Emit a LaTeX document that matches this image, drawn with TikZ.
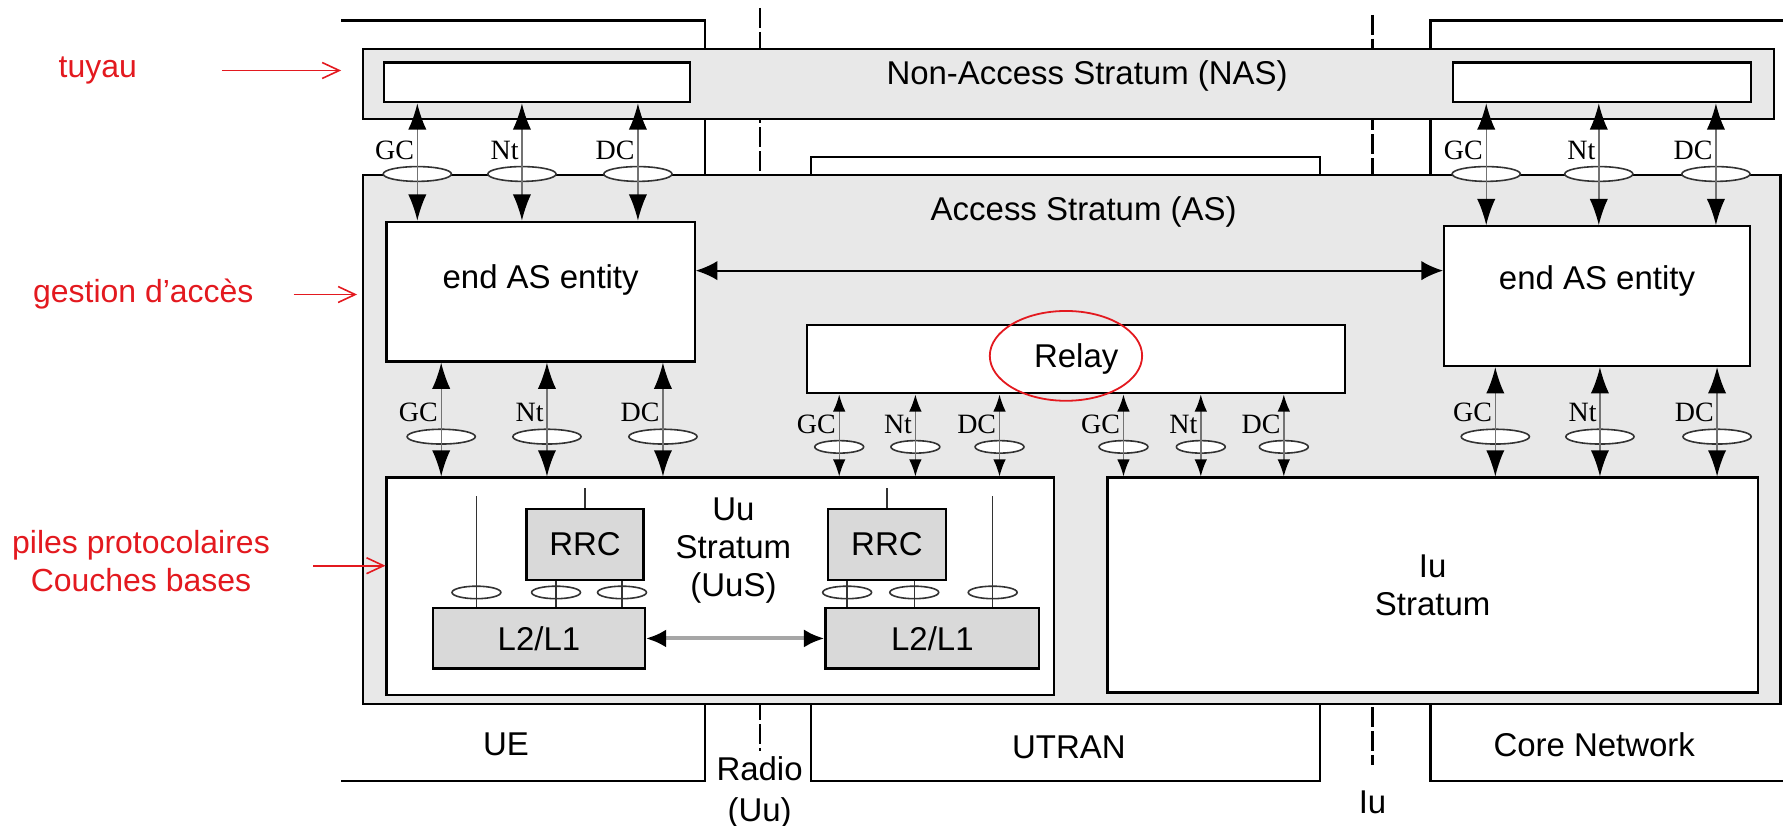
\documentclass[tikz,border=0pt]{standalone}
\usepackage{fontspec}
\setmainfont{Liberation Sans}
\newfontfamily\chanfont{Liberation Serif}
\usepackage{xcolor}
\usepackage{tikz}
\usetikzlibrary{shapes.geometric,arrows.meta,positioning,calc}
\definecolor{stratumgray}{HTML}{E8E8E8}
\definecolor{layergray}{HTML}{D9D9D9}
\definecolor{notered}{HTML}{E3191F}
\tikzset{
  stratum/.style={rectangle, draw=black, line width=1.1pt, fill=stratumgray, anchor=north west, inner sep=0pt},
  entity/.style={rectangle, draw=black, line width=1.1pt, fill=white, anchor=north west, inner sep=0pt, align=center, font=\fontsize{16.5}{19}\selectfont},
  layer/.style={rectangle, draw=black, line width=1.1pt, fill=layergray, anchor=north west, inner sep=0pt, font=\fontsize{16.5}{19}\selectfont},
  lbl/.style={font=\fontsize{16.5}{19}\selectfont, align=center, inner sep=0pt},
  sap/.style={ellipse, draw=black!80, line width=0.8pt, fill=white, minimum width=1.2cm, minimum height=0.26cm, inner sep=0pt},
  sapsmall/.style={sap, minimum width=0.86cm, minimum height=0.22cm},
  chan/.style={draw=black!55, line width=0.7pt, {Latex[length=4.6mm,width=3.2mm,color=black]}-{Latex[length=4.6mm,width=3.2mm,color=black]}},
  chansmall/.style={draw=black!55, line width=0.7pt, {Latex[length=3mm,width=2.2mm,color=black]}-{Latex[length=3mm,width=2.2mm,color=black]}},
  chanlbl/.style={font=\chanfont\fontsize{14}{16}\selectfont, inner sep=0pt, anchor=south east, xshift=-1.5pt, yshift=3pt},
  tap/.style={draw=black!80, line width=0.7pt},
  peer/.style={draw=black, line width=0.9pt, {Latex[length=3.8mm,width=3.4mm]}-{Latex[length=3.8mm,width=3.4mm]}},
  radiolink/.style={draw=black!35, line width=2pt, {Latex[length=3.6mm,width=3.2mm,color=black]}-{Latex[length=3.6mm,width=3.2mm,color=black]}},
  zoneline/.style={draw=black, line width=1.1pt},
  iface/.style={draw=black, line width=1.1pt, dash pattern=on 0.35cm off 0.07cm},
  note/.style={text=notered, font=\fontsize{16}{19}\selectfont, align=center, inner sep=0pt},
  pointer/.style={draw=notered, line width=0.8pt, -{Straight Barb[length=3mm,width=2.8mm]}},
}

\begin{document}
\begin{tikzpicture}[x=0.02cm, y=-0.02cm]
  \useasboundingbox (0,0) rectangle (1568,726);
  % UE, UTRAN, Core Network
  \draw[zoneline] (300,18) -| (620,687) -- (300,687);
  \draw[zoneline] (713,138) rectangle (1161,687);
  \draw[zoneline] (1568,18) -| (1258,687) -- (1568,687);
  \draw[iface] (668,7) -- (668,660);
  \draw[iface] (1207,13) -- (1207,673);

  \node[stratum, minimum width=24.82cm, minimum height=1.24cm] (nas) at (318,42) {};
  \node[entity, minimum width=5.38cm, minimum height=0.7cm] (nasL) at (337,54) {};
  \node[entity, minimum width=5.24cm, minimum height=0.7cm] (nasR) at (1277,54) {};
  \node[lbl] (nastxt) at (956,67) {Non-Access Stratum (NAS)};

  \node[stratum, minimum width=24.94cm, minimum height=9.3cm] (as) at (318,153) {};
  \node[lbl] (astxt) at (953,186) {Access Stratum (AS)};
  \node[entity, minimum width=5.42cm, minimum height=2.46cm] (endL) at (339,194) {};
  \node[entity, minimum width=5.38cm, minimum height=2.46cm] (endR) at (1269,198) {};
  \node[lbl] (endLtxt) at ([yshift=0.2cm]endL.center) {end AS entity};
  \node[lbl] (endRtxt) at ([yshift=0.26cm]endR.center) {end AS entity};
  \node[entity, minimum width=9.46cm, minimum height=1.2cm] (relay) at (709,285) {Relay};
  \node[entity, minimum width=11.74cm, minimum height=3.82cm] (uus) at (339,419) {};
  \node[entity, minimum width=11.44cm, minimum height=3.78cm] (ius) at (973,419) {Iu\\Stratum};

  \node[layer, minimum width=2.06cm, minimum height=1.24cm] (rrcL) at (462,447) {RRC};
  \node[layer, minimum width=2.08cm, minimum height=1.24cm] (rrcR) at (727,447) {RRC};
  \node[layer, minimum width=3.72cm, minimum height=1.06cm] (l2L) at (380,534) {L2/L1};
  \node[layer, minimum width=3.76cm, minimum height=1.06cm] (l2R) at (725,534) {L2/L1};
  \node[lbl] (uustxt) at (645,484) {Uu\\Stratum\\(UuS)};

  \node[lbl] (ue) at (445,655) {UE};
  \node[lbl] (utran) at (940,657) {UTRAN};
  \node[lbl] (cn) at (1402,655) {Core Network};
  \node[lbl, font=\fontsize{16.5}{20.5}\selectfont] (radio) at (668,697) {Radio\\(Uu)};
  \node[lbl] (iu) at (1207,706) {Iu};

  \foreach \x/\t [count=\i] in {367/GC,459/Nt,561/DC}{
    \node[sap] (sapA\i) at (\x,153) {};
    \node[chanlbl] (tagA\i) at (sapA\i.north) {\t};
    \draw[chan] (nasL.south -| sapA\i) -- (endL.north -| sapA\i);
  }
  \foreach \x/\t [count=\i] in {1307/GC,1406/Nt,1509/DC}{
    \node[sap] (sapB\i) at (\x,153) {};
    \node[chanlbl] (tagB\i) at (sapB\i.north) {\t};
    \draw[chan] (nasR.south -| sapB\i) -- (endR.north -| sapB\i);
  }
  \foreach \x/\t [count=\i] in {388/GC,481/Nt,583/DC}{
    \node[sap] (sapC\i) at (\x,384) {};
    \node[chanlbl] (tagC\i) at (sapC\i.north) {\t};
    \draw[chan] (endL.south -| sapC\i) -- (uus.north -| sapC\i);
  }
  \foreach \x/\t [count=\i] in {738/GC,805/Nt,879/DC}{
    \node[sapsmall] (sapD\i) at (\x,393) {};
    \node[chanlbl] (tagD\i) at (sapD\i.north) {\t};
    \draw[chansmall] (relay.south -| sapD\i) -- (uus.north -| sapD\i);
  }
  \foreach \x/\t [count=\i] in {988/GC,1056/Nt,1129/DC}{
    \node[sapsmall] (sapE\i) at (\x,393) {};
    \node[chanlbl] (tagE\i) at (sapE\i.north) {\t};
    \draw[chansmall] (relay.south -| sapE\i) -- (ius.north -| sapE\i);
  }
  \foreach \x/\t [count=\i] in {1315/GC,1407/Nt,1510/DC}{
    \node[sap] (sapF\i) at (\x,384) {};
    \node[chanlbl] (tagF\i) at (sapF\i.north) {\t};
    \draw[chan] (endR.south -| sapF\i) -- (ius.north -| sapF\i);
  }

  \foreach \x [count=\i] in {419,489,547,745,804,873}
    \node[sapsmall] (sapU\i) at (\x,521) {};
  \draw[tap] (l2L.north -| sapU1) -- ++(0,-98);
  \draw[tap] (rrcL.north) -- ++(0,-18);
  \draw[tap] (rrcL.south -| sapU2) -- (l2L.north -| sapU2);
  \draw[tap] (rrcL.south -| sapU3) -- (l2L.north -| sapU3);
  \draw[tap] (rrcR.south -| sapU4) -- (l2R.north -| sapU4);
  \draw[tap] (rrcR.south -| sapU5) -- (l2R.north -| sapU5);
  \draw[tap] (rrcR.north) -- ++(0,-18);
  \draw[tap] (l2R.north -| sapU6) -- ++(0,-98);

  \draw[peer] (endL.east |- 0,238) -- (endR.west |- 0,238);
  \draw[radiolink] (l2L.east) -- (l2R.west);

  \node[ellipse, draw=notered, line width=0.9pt, minimum width=2.68cm, minimum height=1.58cm] (relaymark) at ([xshift=-0.18cm,yshift=0.06cm]relay.center) {};
  \node[note] (tuyau) at (86,62) {tuyau};
  \node[note] (gestion) at (126,259) {gestion d’accès};
  \node[note] (piles) at (124,493) {piles protocolaires\\Couches bases};
  \draw[pointer] ([xshift=1.49cm]tuyau.east) -- ([xshift=-0.36cm]nas.west |- tuyau);
  \draw[pointer] ([xshift=0.7cm]gestion.east) -- ([xshift=-0.08cm]as.west |- gestion);
  \draw[pointer] ([xshift=0.76cm,yshift=-0.09cm]piles.east) -- ([yshift=-0.09cm]uus.west |- piles);
\end{tikzpicture}
\end{document}
